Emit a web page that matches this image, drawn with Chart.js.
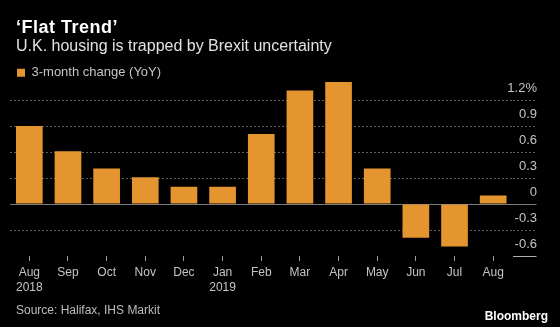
<!DOCTYPE html>
<html>
<head>
<meta charset="utf-8">
<script src="https://cdn.jsdelivr.net/npm/chart.js@4"></script>
<style>
    html, body { margin: 0; padding: 0; background: #000; }
    #wrap { position: relative; width: 560px; height: 327px; overflow: hidden; font-family: "Liberation Sans", Arial, sans-serif; }
    #chart { position: absolute; left: 0; top: 0; }
    .txt { position: absolute; white-space: nowrap; line-height: 20px; }
    #title { left: 16px; top: 17px; font-size: 18px; letter-spacing: 0.5px; font-weight: bold; color: #fff; }
    #subtitle { left: 16px; top: 36px; font-size: 16px; color: #e2e2e2; }
    #source { left: 16px; top: 300px; font-size: 12px; color: #bdbdbd; }
    #brand { right: 12px; top: 306px; font-size: 12px; font-weight: bold; color: #fff; }
</style>
</head>
<body>
<div id="wrap">
    <canvas id="chart" width="560" height="327"></canvas>
    <div class="txt" id="title">‘Flat Trend’</div>
    <div class="txt" id="subtitle">U.K. housing is trapped by Brexit uncertainty</div>
    <div class="txt" id="source">Source: Halifax, IHS Markit</div>
    <div class="txt" id="brand">Bloomberg</div>
</div>
<script>
var months = ['Aug', 'Sep', 'Oct', 'Nov', 'Dec', 'Jan', 'Feb', 'Mar', 'Apr', 'May', 'Jun', 'Jul', 'Aug'];
var years = ['2018', '', '', '', '', '2019', '', '', '', '', '', '', ''];
var change = [0.90, 0.61, 0.41, 0.31, 0.20, 0.20, 0.81, 1.31, 1.41, 0.41, -0.39, -0.49, 0.10];
var yTicks = [-0.6, -0.3, 0, 0.3, 0.6, 0.9, 1.2];

var orange = '#e5952f';
var labelGrey = '#c4c4c4';
var fontFamily = '"Liberation Sans", Arial, sans-serif';

// month on first line, year below where the year changes
var labels = months.map(function (m, i) {
    return years[i] ? [m, years[i]] : m;
});

function tickValue(ctx) {
    return ctx.tick ? ctx.tick.value : null;
}

var config = {
    type: 'bar',
    data: {
        labels: labels,
        datasets: [{
            label: '3-month change (YoY)',
            data: change,
            backgroundColor: orange,
            borderWidth: 0,
            barPercentage: 0.69,
            categoryPercentage: 1.0
        }]
    },
    options: {
        responsive: false,
        animation: false,
        layout: {
            padding: { left: 10, right: 23, top: 59.2, bottom: 31 }
        },
        plugins: {
            title: { display: false },
            tooltip: { enabled: false },
            legend: {
                position: 'top',
                align: 'start',
                maxHeight: 21,
                labels: {
                    boxWidth: 8,
                    boxHeight: 8,
                    padding: 7,
                    color: labelGrey,
                    font: { family: fontFamily, size: 13 }
                }
            }
        },
        scales: {
            x: {
                grid: {
                    display: true,
                    drawOnChartArea: false,
                    offset: false,
                    tickLength: 5,
                    tickColor: '#9a9a9a',
                    color: '#9a9a9a'
                },
                border: { display: false },
                ticks: {
                    color: labelGrey,
                    padding: 4,
                    maxRotation: 0,
                    autoSkip: false,
                    font: { family: fontFamily, size: 12, lineHeight: 1.28 }
                },
                afterFit: function (scale) { scale.height = 40; }
            },
            y: {
                position: 'right',
                min: -0.6,
                max: 1.43,
                afterBuildTicks: function (scale) {
                    scale.ticks = yTicks.map(function (v) { return { value: v }; });
                },
                afterFit: function (scale) { scale.width = 24.5; },
                grid: {
                    lineWidth: 1,
                    tickLength: 24,
                    color: function (ctx) {
                        var v = tickValue(ctx);
                        if (v === -0.6) return 'rgba(0,0,0,0)';
                        return v === 0 ? '#7c7c7c' : '#5e5e5e';
                    },
                    tickColor: function (ctx) {
                        var v = tickValue(ctx);
                        if (v === -0.6) return '#b0b0b0';
                        return v === 0 ? '#7c7c7c' : '#5e5e5e';
                    },
                    tickBorderDash: function (ctx) {
                        var v = tickValue(ctx);
                        return (v === 0 || v === -0.6) ? [] : [2, 2];
                    }
                },
                border: {
                    display: false,
                    dash: function (ctx) {
                        return tickValue(ctx) === 0 ? [] : [2, 2];
                    }
                },
                ticks: {
                    color: labelGrey,
                    mirror: true,
                    padding: 24.5,
                    labelOffset: -12,
                    font: { family: fontFamily, size: 13 },
                    callback: function (value) {
                        if (value === 0) return '0';
                        var s = Number(value).toFixed(1);
                        return value === yTicks[yTicks.length - 1] ? s + '%' : s;
                    }
                }
            }
        }
    }
};

new Chart(document.getElementById('chart').getContext('2d'), config);
</script>
</body>
</html>
